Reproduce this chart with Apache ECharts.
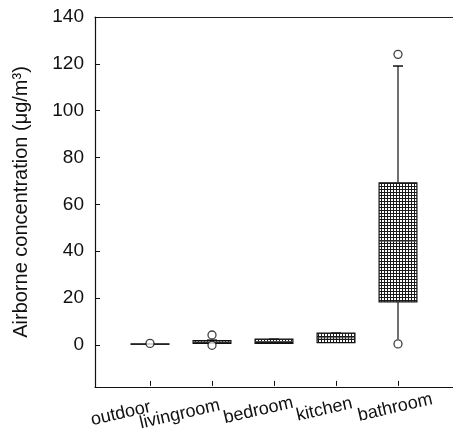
<!DOCTYPE html>
<html>
<head>
<meta charset="utf-8">
<script src="https://cdn.jsdelivr.net/npm/echarts@6/dist/echarts.min.js"></script>
<style>html,body{margin:0;padding:0;background:#fff}#c{width:453px;height:433px}</style>
</head>
<body>
<div id="c"></div>
<script>
var categories = ['outdoor', 'livingroom', 'bedroom', 'kitchen', 'bathroom'];
var whiskerLow = [0, 0, 0, 0.5, 2];
var q1 = [0, 0.2, 0.2, 0.5, 18];
var median = [0, 0.8, 1, 2.6, 44];
var q3 = [0, 1.4, 2, 4.6, 69];
var whiskerHigh = [0, 1.6, 2, 4.6, 119];
var outlierCat = [0, 1, 1, 4, 4];
var outlierVal = [0.2, 3.8, -0.6, 124, 0];
var yTicks = [0, 20, 40, 60, 80, 100, 120, 140];

var pc = document.createElement('canvas');
pc.width = 3; pc.height = 3;
var g = pc.getContext('2d');
g.fillStyle = '#fff'; g.fillRect(0, 0, 3, 3);
g.fillStyle = '#1a1a1a'; g.fillRect(0, 0, 3, 1); g.fillRect(0, 0, 1, 3);

var boxData = categories.map(function (c, i) {
  return [i, whiskerLow[i], q1[i], median[i], q3[i], whiskerHigh[i]];
});
var outData = outlierCat.map(function (c, i) { return [c, outlierVal[i]]; });

// per-label shift (label styling only)
var labelPad = [60, 66, 32, 24, 6];
var rich = {};
categories.forEach(function (c, i) {
  rich['l' + i] = { padding: [0, labelPad[i], 0, 0], fontSize: 18, color: '#111', fontFamily: 'Liberation Sans, Arial, sans-serif' };
});

var chart = echarts.init(document.getElementById('c'));
var font = 'Liberation Sans, Arial, sans-serif';
chart.setOption({
  animation: false,
  grid: [
    { left: 95, top: 17, right: -20, bottom: 46 },
    { left: 119, top: 17, width: 310, bottom: 46 }
  ],
  xAxis: [
    { gridIndex: 0, type: 'value', min: 0, max: 1, axisLine: { show: true, onZero: false, lineStyle: { color: '#111', width: 1.2 } },
      axisTick: { show: false }, axisLabel: { show: false }, splitLine: { show: false } },
    { gridIndex: 0, type: 'value', position: 'top', min: 0, max: 1, axisLine: { show: true, onZero: false, lineStyle: { color: '#222', width: 1.2 } },
      axisTick: { show: false }, axisLabel: { show: false }, splitLine: { show: false } },
    { gridIndex: 1, type: 'category', data: categories, boundaryGap: true,
      axisLine: { show: false, onZero: false },
      axisTick: { show: true, inside: true, alignWithLabel: true, length: 5, lineStyle: { color: '#111' } },
      axisLabel: { rotate: 13, align: 'center', verticalAlign: 'middle', fontSize: 18, color: '#111', fontFamily: font, margin: 21, interval: 0,
        formatter: function (v, i) { return '{l' + i + '|' + v + '}'; }, rich: rich },
      splitLine: { show: false } }
  ],
  yAxis: [
    { gridIndex: 0, type: 'value', min: -18, max: 140,
      axisLine: { show: true, onZero: false, lineStyle: { color: '#111', width: 1.2 } },
      axisTick: { show: true, inside: true, length: 5, customValues: yTicks, lineStyle: { color: '#111' } },
      axisLabel: { customValues: yTicks, fontSize: 19, color: '#111', fontFamily: font, margin: 11 },
      splitLine: { show: false },
      name: 'Airborne concentration (\u03bcg/m\u00b3)', nameLocation: 'middle', nameGap: 64, nameRotate: 90,
      nameTextStyle: { fontSize: 20, color: '#111', fontFamily: font } },
    { gridIndex: 1, type: 'value', min: -18, max: 140, show: false }
  ],
  series: [
    {
      type: 'custom', xAxisIndex: 2, yAxisIndex: 1, data: boxData,
      encode: { x: 0, y: [1, 2, 3, 4, 5] },
      renderItem: function (params, api) {
        var x = api.value(0);
        var pLow = api.coord([x, api.value(1)]);
        var pQ1 = api.coord([x, api.value(2)]);
        var pMed = api.coord([x, api.value(3)]);
        var pQ3 = api.coord([x, api.value(4)]);
        var pHigh = api.coord([x, api.value(5)]);
        var bw = api.size([1, 0])[0] * 0.61;
        var cx = pQ1[0];
        var lineStyle = { stroke: '#111', lineWidth: 1.2 };
        return {
          type: 'group',
          children: [
            { type: 'line', shape: { x1: cx, y1: pQ3[1], x2: cx, y2: pHigh[1] }, style: lineStyle },
            { type: 'line', shape: { x1: cx, y1: pQ1[1], x2: cx, y2: pLow[1] }, style: lineStyle },
            { type: 'line', shape: { x1: cx - 5, y1: pHigh[1], x2: cx + 5, y2: pHigh[1] }, style: { stroke: '#111', lineWidth: 1.5 } },
            { type: 'rect', shape: { x: cx - bw / 2, y: pQ3[1], width: bw, height: Math.max(pQ1[1] - pQ3[1], 0.5) },
              style: { fill: { image: pc, repeat: 'repeat' }, stroke: '#111', lineWidth: 1.2 } },
            { type: 'line', shape: { x1: cx - bw / 2, y1: pMed[1], x2: cx + bw / 2, y2: pMed[1] }, style: { stroke: '#444', lineWidth: 1 } }
          ]
        };
      }
    },
    {
      type: 'scatter', xAxisIndex: 2, yAxisIndex: 1, data: outData,
      symbol: 'circle', symbolSize: 8,
      itemStyle: { color: '#fff', borderColor: '#111', borderWidth: 1.3 }
    }
  ]
});
</script>
</body>
</html>
